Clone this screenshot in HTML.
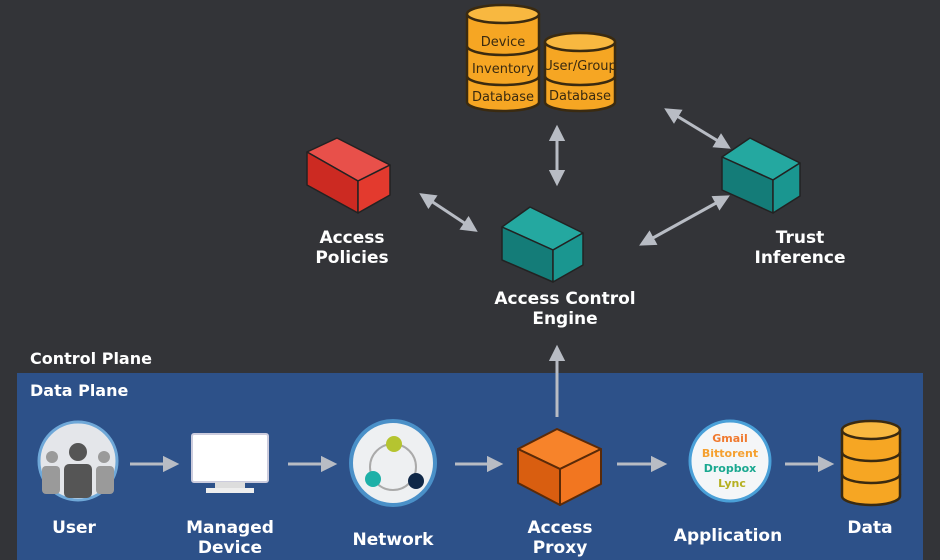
<!DOCTYPE html>
<html><head><meta charset="utf-8"><style>
html,body{margin:0;padding:0;background:#333438;}
svg{display:block}
text{font-family:"DejaVu Sans","Liberation Sans",sans-serif;font-weight:bold;fill:#fff;}
.db{fill:#3a2a10;font-weight:normal}
</style></head><body>
<svg width="940" height="560" viewBox="0 0 940 560" xmlns="http://www.w3.org/2000/svg">
<defs>
<marker id="ah" viewBox="0 0 10 10" refX="8" refY="5" markerWidth="5.5" markerHeight="5.5" orient="auto-start-reverse"><path d="M0,0L10,5L0,10z" fill="#b8bcc4"/></marker>
</defs>
<rect width="940" height="560" fill="#333438"/>
<rect x="17" y="373" width="906" height="187" fill="#2d5189"/>
<text x="30" y="364" font-size="16">Control Plane</text>
<text x="30" y="396" font-size="16">Data Plane</text>

<g stroke="#3a2a10" stroke-width="2.5" fill="#f6a623">
<path d="M467,14 v88 a36,9 0 0 0 72,0 v-88"/>
<ellipse cx="503" cy="14" rx="36" ry="9" fill="#f8b840"/>
<path d="M467,46 a36,9 0 0 0 72,0 M467,76 a36,9 0 0 0 72,0" fill="none"/>
<path d="M545,42 v60 a35,9 0 0 0 70,0 v-60"/>
<ellipse cx="580" cy="42" rx="35" ry="9" fill="#f8b840"/>
<path d="M545,76 a35,9 0 0 0 70,0" fill="none"/>
</g>
<g font-size="13" text-anchor="middle">
<text x="503" y="46" class="db">Device</text>
<text x="503" y="73" class="db">Inventory</text>
<text x="503" y="101" class="db">Database</text>
<text x="580" y="70" class="db">User/Group</text>
<text x="580" y="100" class="db">Database</text>
</g>

<g stroke="#222" stroke-width="1.5" stroke-linejoin="round">
<polygon points="307,152 337,138 390,165 358,181" fill="#e8504a"/>
<polygon points="307,152 358,181 358,213 307,185" fill="#cc2a22"/>
<polygon points="358,181 390,165 390,195 358,213" fill="#e33a2e"/>

<polygon points="502,227 530,207 583,233 553,250" fill="#24a8a0"/>
<polygon points="502,227 553,250 553,282 502,260" fill="#147c78"/>
<polygon points="553,250 583,233 583,265 553,282" fill="#1a9690"/>

<polygon points="722,157 750,138 800,163 773,180" fill="#24a8a0"/>
<polygon points="722,157 773,180 773,213 722,190" fill="#147c78"/>
<polygon points="773,180 800,163 800,196 773,213" fill="#1a9690"/>
</g>

<g stroke="#b8bcc4" stroke-width="3" fill="none">
<line x1="557" y1="128" x2="557" y2="183" marker-start="url(#ah)" marker-end="url(#ah)"/>
<line x1="422" y1="195" x2="475" y2="230" marker-start="url(#ah)" marker-end="url(#ah)"/>
<line x1="667" y1="110" x2="728" y2="147" marker-start="url(#ah)" marker-end="url(#ah)"/>
<line x1="642" y1="244" x2="727" y2="197" marker-start="url(#ah)" marker-end="url(#ah)"/>
<line x1="557" y1="417" x2="557" y2="348" marker-end="url(#ah)"/>
<line x1="130" y1="464" x2="176" y2="464" marker-end="url(#ah)"/>
<line x1="288" y1="464" x2="334" y2="464" marker-end="url(#ah)"/>
<line x1="455" y1="464" x2="500" y2="464" marker-end="url(#ah)"/>
<line x1="617" y1="464" x2="664" y2="464" marker-end="url(#ah)"/>
<line x1="785" y1="464" x2="831" y2="464" marker-end="url(#ah)"/>
</g>

<g font-size="17" text-anchor="middle">
<text x="352" y="243">Access</text><text x="352" y="263">Policies</text>
<text x="565" y="304">Access Control</text><text x="565" y="324">Engine</text>
<text x="800" y="243">Trust</text><text x="800" y="263">Inference</text>
</g>

<circle cx="78" cy="461" r="39" fill="#e4e6ea" stroke="#6fa8d8" stroke-width="3"/>
<circle cx="52" cy="457" r="6" fill="#9a9a9a"/><circle cx="104" cy="457" r="6" fill="#9a9a9a"/>
<rect x="42" y="466" width="18" height="28" rx="4" fill="#9a9a9a"/><rect x="96" y="466" width="18" height="28" rx="4" fill="#9a9a9a"/>
<circle cx="78" cy="452" r="9" fill="#555"/>
<rect x="64" y="464" width="28" height="34" rx="5" fill="#555"/>
<rect x="192" y="434" width="76" height="48" rx="2" fill="#fff" stroke="#ccd" stroke-width="2"/>
<rect x="215" y="482" width="30" height="6" fill="#ddd"/><rect x="206" y="488" width="48" height="5" fill="#eee"/>
<circle cx="393" cy="463" r="42" fill="#eef0f2" stroke="#4a90c8" stroke-width="4"/>
<circle cx="393" cy="467" r="23" fill="none" stroke="#aaa" stroke-width="2"/>
<circle cx="394" cy="444" r="8" fill="#b5c430"/>
<circle cx="373" cy="479" r="8" fill="#1eb0a8"/>
<circle cx="416" cy="481" r="8" fill="#102848"/>
<g stroke="#5a2a08" stroke-width="2" stroke-linejoin="round">
<polygon points="518,449 557,429 601,449 560,469" fill="#f7832a"/>
<polygon points="518,449 560,469 560,505 518,483" fill="#d95e10"/>
<polygon points="560,469 601,449 601,484 560,505" fill="#f27620"/>
</g>
<circle cx="730" cy="461" r="40" fill="#f4f6f8" stroke="#4aa0d8" stroke-width="3"/>
<g font-size="11" text-anchor="middle">
<text x="730" y="442" style="fill:#f07a30">Gmail</text>
<text x="730" y="457" style="fill:#f5a030">Bittorent</text>
<text x="730" y="472" style="fill:#1aa890">Dropbox</text>
<text x="732" y="487" style="fill:#b5b020">Lync</text>
</g>
<g stroke="#3a2a10" stroke-width="2.5" fill="#f6a623">
<path d="M842,430 v66 a29,9 0 0 0 58,0 v-66"/>
<ellipse cx="871" cy="430" rx="29" ry="9" fill="#f8b840"/>
<path d="M842,452 a29,9 0 0 0 58,0 M842,474 a29,9 0 0 0 58,0" fill="none"/>
</g>

<g font-size="17" text-anchor="middle">
<text x="74" y="533">User</text>
<text x="230" y="533">Managed</text><text x="230" y="553">Device</text>
<text x="393" y="545">Network</text>
<text x="560" y="533">Access</text><text x="560" y="553">Proxy</text>
<text x="728" y="541">Application</text>
<text x="870" y="533">Data</text>
</g>
</svg>
</body></html>
